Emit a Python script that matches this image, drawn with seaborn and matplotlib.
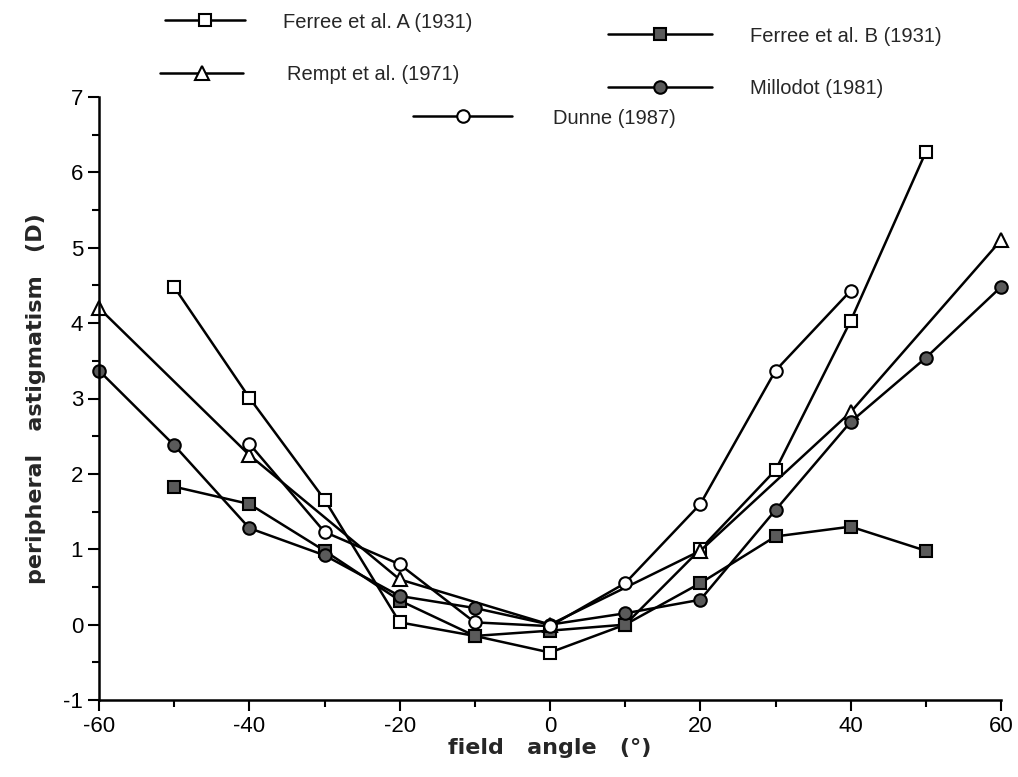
import matplotlib
matplotlib.use("Agg")
import matplotlib.pyplot as plt
from matplotlib.ticker import MultipleLocator
import seaborn as sns
import pandas as pd

# ---- data ----
angles_ferree_a = [-50, -40, -30, -20, -10, 0, 10, 20, 30, 40, 50]
ferree_a = [4.48, 3.01, 1.66, 0.03, -0.15, -0.37, 0.0, 1.0, 2.05, 4.03, 6.27]

angles_ferree_b = [-50, -40, -30, -20, -10, 0, 10, 20, 30, 40, 50]
ferree_b = [1.83, 1.60, 0.98, 0.32, -0.15, -0.08, 0.0, 0.55, 1.17, 1.30, 0.98]

angles_rempt = [-60, -40, -20, 0, 20, 40, 60]
rempt = [4.20, 2.25, 0.60, 0.0, 0.98, 2.82, 5.10]

angles_millodot = [-60, -50, -40, -30, -20, -10, 0, 10, 20, 30, 40, 50, 60]
millodot = [3.37, 2.38, 1.28, 0.92, 0.38, 0.22, 0.0, 0.15, 0.33, 1.52, 2.69, 3.54, 4.48]

angles_dunne = [-40, -30, -20, -10, 0, 10, 20, 30, 40]
dunne = [2.40, 1.23, 0.80, 0.03, -0.02, 0.55, 1.60, 3.37, 4.43]

labels = ["Ferree et al. A (1931)", "Ferree et al. B (1931)",
          "Rempt et al. (1971)", "Millodot (1981)", "Dunne (1987)"]

x_ticks = [-60, -40, -20, 0, 20, 40, 60]
x_ticklabels = ["-60", "-40", "-20", "0", "20", "40", "60"]
y_ticks = [-1, 0, 1, 2, 3, 4, 5, 6, 7]
y_ticklabels = ["-1", "0", "1", "2", "3", "4", "5", "6", "7"]

# ---- style ----
sns.set_style("ticks")
plt.rcParams['font.family'] = ['Liberation Sans', 'DejaVu Sans']
plt.rcParams['axes.unicode_minus'] = False

fig = plt.figure(figsize=(10.18, 7.77), dpi=100)
ax = fig.add_axes([99/1018, 1 - 700/777, (1001-99)/1018, (700-97)/777])

FILL = "#5a5a5a"
series = [
    (angles_ferree_a, ferree_a, "s", "white", 8.5),
    (angles_ferree_b, ferree_b, "s", FILL, 8.5),
    (angles_rempt, rempt, "^", "white", 9.5),
    (angles_millodot, millodot, "o", FILL, 9),
    (angles_dunne, dunne, "o", "white", 9),
]

handles = []
for (xs, ys, mk, fc, ms), lab in zip(series, labels):
    df = pd.DataFrame({"angle": xs, "astig": ys})
    sns.lineplot(data=df, x="angle", y="astig", ax=ax, color="black",
                 linewidth=1.8, marker=mk, markersize=ms,
                 markerfacecolor=fc, markeredgecolor="black",
                 markeredgewidth=1.5, label=lab, legend=False)
    line = ax.lines[-1]
    line.set_clip_on(False)
    handles.append(line)

ax.set_xlim(-60, 60)
ax.set_ylim(-1, 7)
ax.set_xticks(x_ticks)
ax.set_xticklabels(x_ticklabels)
ax.set_yticks(y_ticks)
ax.set_yticklabels(y_ticklabels)
ax.xaxis.set_minor_locator(MultipleLocator(10))
ax.yaxis.set_minor_locator(MultipleLocator(0.5))
ax.tick_params(which="major", direction="out", length=8, width=1.5,
               labelsize=16, color="black", labelcolor="black")
ax.tick_params(which="minor", direction="out", length=5, width=1.5, color="black")
for s in ["top", "right"]:
    ax.spines[s].set_visible(False)
for s in ["left", "bottom"]:
    ax.spines[s].set_linewidth(1.8)
    ax.spines[s].set_color("black")

ax.set_xlabel("field   angle   (\u00b0)", fontsize=16, fontweight="bold",
              family=["DejaVu Sans"], labelpad=1)
ax.set_ylabel("peripheral   astigmatism   (D)", fontsize=16, fontweight="bold",
              family=["DejaVu Sans"], labelpad=12)

# ---- legend entries (irregular layout) ----
fs = 14.5
fpx = fs * 100 / 72
entries = [
    (0, 165, 245, 283, 22),
    (1, 608, 712, 750, 36),
    (2, 160, 243, 287, 75),
    (3, 608, 712, 750, 89),
    (4, 413, 512, 553, 118),
]
for idx, x0, x1, xt, yc in entries:
    fig.legend(handles=[handles[idx]], labels=[labels[idx]],
               loc="center left", bbox_to_anchor=(x0/1018, 1 - yc/777),
               frameon=False, fontsize=fs, borderpad=0, borderaxespad=0,
               handlelength=(x1-x0)/fpx, handletextpad=(xt-x1)/fpx,
               numpoints=1)

fig.savefig("out.png", dpi=100)
